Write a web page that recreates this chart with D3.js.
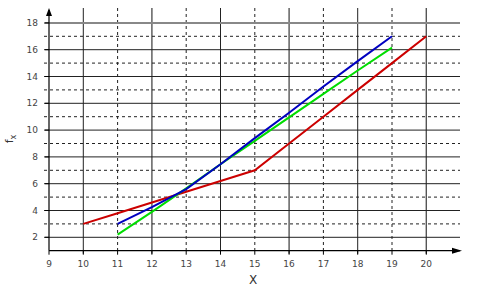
<!DOCTYPE html>
<html>
<head>
<meta charset="utf-8">
<script src="https://cdn.jsdelivr.net/npm/d3@7"></script>
<style>
  body { margin: 0; background: #fff; }
  svg { font-family: "DejaVu Sans", Arial, sans-serif; }
</style>
</head>
<body>
<div id="chart"></div>
<script>
// series values
var xTicks = [9, 10, 11, 12, 13, 14, 15, 16, 17, 18, 19, 20];
var yTicks = [2, 4, 6, 8, 10, 12, 14, 16, 18];

var redX = [10, 11, 12, 13, 14, 15, 16, 17, 18, 19, 20];
var redY = [3, 3.8, 4.6, 5.4, 6.2, 7, 9, 11, 13, 15, 17];

var blueX = [11, 12, 13, 14, 15, 16, 17, 18, 19];
var blueY = [3, 4.25, 5.6, 7.45, 9.4, 11.3, 13.25, 15.15, 17];

var greenX = [11, 12, 13, 14, 15, 16, 17, 18, 19];
var greenY = [2.2, 3.9, 5.65, 7.45, 9.2, 10.95, 12.7, 14.45, 16.15];

var width = 478, height = 289;

var svg = d3.select("#chart").append("svg")
    .attr("width", width)
    .attr("height", height);

var x = d3.scaleLinear().domain([9, 21]).range([49, 460.6]);
var y = d3.scaleLinear().domain([1, 19]).range([250.7, 9.5]);

// grid, solid on even values, dashed on odd ones
var gx = d3.range(10, 21);
var gy = d3.range(2, 19);

svg.selectAll(".vgrid").data(gx).enter().append("line")
    .attr("class", "vgrid")
    .attr("x1", d => x(d)).attr("x2", d => x(d))
    .attr("y1", 8).attr("y2", y(1) + 3)
    .style("stroke", d => d % 4 == 0 ? "#555" : "#222")
    .style("stroke-width", d => d % 4 == 0 ? 1.4 : 1)
    .style("stroke-dasharray", d => d % 2 == 0 ? null : "3,3");

svg.selectAll(".hgrid").data(gy).enter().append("line")
    .attr("class", "hgrid")
    .attr("x1", 44).attr("x2", 460)
    .attr("y1", d => y(d)).attr("y2", d => y(d))
    .style("stroke", d => d == 18 ? "#888" : "#222")
    .style("stroke-width", d => d == 18 ? 2 : 1)
    .style("stroke-dasharray", d => d % 2 == 0 ? null : "3,3");

// axes
svg.append("line")
    .attr("x1", x(9)).attr("x2", x(9))
    .attr("y1", 10).attr("y2", y(1))
    .style("stroke", "#000").style("stroke-width", 1.2);
svg.append("line")
    .attr("x1", x(9)).attr("x2", 460)
    .attr("y1", y(1)).attr("y2", y(1))
    .style("stroke", "#000").style("stroke-width", 1.2);

// arrow heads
svg.append("path")
    .attr("d", "M" + x(9) + ",8 L" + (x(9) - 3) + ",16 L" + (x(9) + 3) + ",16 Z")
    .style("fill", "#000");
svg.append("path")
    .attr("d", "M462," + y(1) + " L452," + (y(1) - 3) + " L452," + (y(1) + 3) + " Z")
    .style("fill", "#000");

// tick marks
svg.selectAll(".xtick").data(xTicks).enter().append("line")
    .attr("x1", d => x(d)).attr("x2", d => x(d))
    .attr("y1", y(1)).attr("y2", y(1) + 4)
    .style("stroke", "#000");
svg.selectAll(".ytick").data(yTicks).enter().append("line")
    .attr("x1", x(9) - 4).attr("x2", x(9))
    .attr("y1", d => y(d)).attr("y2", d => y(d))
    .style("stroke", "#000");

// tick labels
svg.selectAll(".xlab").data(xTicks).enter().append("text")
    .attr("x", d => x(d))
    .attr("y", y(1) + 16)
    .attr("text-anchor", "middle")
    .style("font-size", "9px")
    .style("fill", "#444")
    .text(d => d);

svg.selectAll(".ylab").data(yTicks).enter().append("text")
    .attr("x", 38)
    .attr("y", d => y(d) + 3)
    .attr("text-anchor", "end")
    .style("font-size", "9px")
    .style("fill", "#444")
    .text(d => d);

// axis titles
svg.append("text")
    .attr("x", 253)
    .attr("y", 284)
    .attr("text-anchor", "middle")
    .style("font-size", "12px")
    .style("fill", "#333")
    .text("X");

var ylab = svg.append("text")
    .attr("transform", "translate(13,139) rotate(-90)")
    .attr("text-anchor", "middle")
    .style("font-size", "11px")
    .style("fill", "#333");
ylab.append("tspan").text("f");
ylab.append("tspan").attr("dy", 3).style("font-size", "8px").text("x");

// series lines
var line = d3.line().x(d => x(d[0])).y(d => y(d[1]));

function drawSeries(xs, ys, color) {
    svg.append("path")
        .datum(d3.zip(xs, ys))
        .attr("d", line)
        .style("fill", "none")
        .style("stroke", color)
        .style("stroke-width", 2);
}

drawSeries(redX, redY, "#cc0000");
drawSeries(greenX, greenY, "#00dd00");
drawSeries(blueX, blueY, "#0000c0");
</script>
</body>
</html>
